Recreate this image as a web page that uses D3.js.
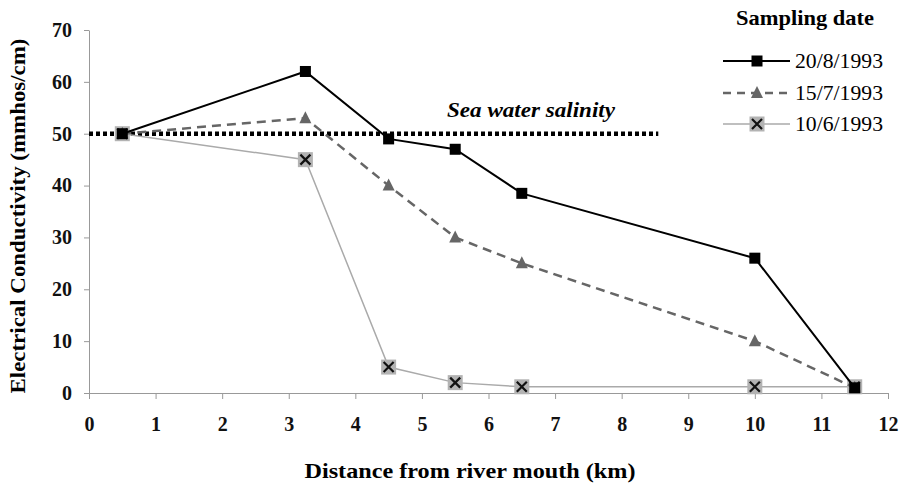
<!DOCTYPE html>
<html>
<head>
<meta charset="utf-8">
<script src="https://cdn.jsdelivr.net/npm/d3@7"></script>
<style>
  body { margin: 0; background: #fff; }
  svg { font-family: "Liberation Serif", "Times New Roman", serif; }
</style>
</head>
<body>
<svg id="chart" width="901" height="486"></svg>
<script>
// distance from river mouth (km)
const distances = [0.5, 3.25, 4.5, 5.5, 6.5, 10, 11.5];
const ec_20_8 = [50, 62, 49, 47, 38.5, 26, 1];
const ec_15_7 = [50, 53, 40, 30, 25, 10, 1];
const ec_10_6 = [50, 45, 5, 2, 1.2, 1.2, 1.2];
const seriesNames = ["20/8/1993", "15/7/1993", "10/6/1993"];
const xTicks = [0, 1, 2, 3, 4, 5, 6, 7, 8, 9, 10, 11, 12];
const yTicks = [0, 10, 20, 30, 40, 50, 60, 70];
const seaLevel = 50;
const seaRange = [0, 8.55];

const svg = d3.select("#chart");
const x = d3.scaleLinear().domain([0, 12]).range([89, 888]);
const y = d3.scaleLinear().domain([0, 70]).range([393, 30]);

// axes
const xAxis = svg.append("g").attr("transform", `translate(0,${y(0)})`)
  .call(d3.axisBottom(x).tickValues(xTicks).tickSize(6).tickSizeOuter(0).tickPadding(18));
const yAxis = svg.append("g").attr("transform", `translate(${x(0)},0)`)
  .call(d3.axisLeft(y).tickValues(yTicks).tickSize(5).tickSizeOuter(0).tickPadding(12));
[xAxis, yAxis].forEach(a => {
  a.selectAll("path, line").attr("stroke", "#999");
  a.selectAll("text").attr("fill", "#111").style("font-size", "20px").style("font-weight", "bold")
    .style("font-family", "Liberation Serif");
});

// sea water salinity line
svg.append("line")
  .attr("x1", x(seaRange[0])).attr("x2", x(seaRange[1]))
  .attr("y1", y(seaLevel)).attr("y2", y(seaLevel))
  .attr("stroke", "#000").attr("stroke-width", 4.5).attr("stroke-dasharray", "4,3");
svg.append("text").attr("x", 531).attr("y", 117).attr("text-anchor", "middle")
  .attr("textLength", 168).attr("lengthAdjust", "spacingAndGlyphs")
  .style("font-size", "22px").style("font-weight", "bold").style("font-style", "italic")
  .text("Sea water salinity");

const line = d3.line().x(d => x(d[0])).y(d => y(d[1]));
const pts = vals => distances.map((d, i) => [d, vals[i]]);

const styles = [
  { vals: ec_20_8, stroke: "#000", width: 2, dash: null, marker: "square" },
  { vals: ec_15_7, stroke: "#666", width: 2.5, dash: "9,6", marker: "triangle" },
  { vals: ec_10_6, stroke: "#aaa", width: 1.5, dash: null, marker: "xbox" }
];

function drawMarker(g, type, cx, cy) {
  if (type === "square") {
    g.append("rect").attr("x", cx - 5.5).attr("y", cy - 5.5).attr("width", 11).attr("height", 11).attr("fill", "#000");
  } else if (type === "triangle") {
    g.append("path").attr("d", `M${cx},${cy - 7}L${cx + 6},${cy + 5}L${cx - 6},${cy + 5}Z`).attr("fill", "#666");
  } else {
    g.append("rect").attr("x", cx - 7.5).attr("y", cy - 7.5).attr("width", 15).attr("height", 15).attr("fill", "#b3b3b3");
    g.append("path").attr("d", `M${cx - 5},${cy - 5}L${cx + 5},${cy + 5}M${cx + 5},${cy - 5}L${cx - 5},${cy + 5}`)
      .attr("stroke", "#111").attr("stroke-width", 2.2);
  }
}

// draw bottom series first so black is on top
styles.slice().reverse().forEach(s => {
  svg.append("path").datum(pts(s.vals)).attr("d", line)
    .attr("fill", "none").attr("stroke", s.stroke).attr("stroke-width", s.width)
    .attr("stroke-dasharray", s.dash);
  const g = svg.append("g");
  pts(s.vals).forEach(p => drawMarker(g, s.marker, x(p[0]), y(p[1])));
});

// legend
svg.append("text").attr("x", 805).attr("y", 25).attr("text-anchor", "middle")
  .attr("textLength", 138).attr("lengthAdjust", "spacingAndGlyphs")
  .style("font-size", "21px").style("font-weight", "bold").text("Sampling date");
const legY = [61, 93, 124];
styles.forEach((s, i) => {
  svg.append("line").attr("x1", 723).attr("x2", 790).attr("y1", legY[i]).attr("y2", legY[i])
    .attr("stroke", s.stroke).attr("stroke-width", s.width).attr("stroke-dasharray", s.dash ? "8,6" : null);
  drawMarker(svg.append("g"), s.marker, 757, legY[i]);
  svg.append("text").attr("x", 795).attr("y", legY[i] + 7)
    .attr("textLength", 88).attr("lengthAdjust", "spacingAndGlyphs")
    .style("font-size", "21px").text(seriesNames[i]);
});

// axis titles
svg.append("text").attr("x", 470).attr("y", 478).attr("text-anchor", "middle")
  .attr("textLength", 331).attr("lengthAdjust", "spacingAndGlyphs")
  .style("font-size", "22px").style("font-weight", "bold").text("Distance from river mouth (km)");
svg.append("text").attr("transform", "translate(25,216) rotate(-90)").attr("text-anchor", "middle")
  .attr("textLength", 355).attr("lengthAdjust", "spacingAndGlyphs")
  .style("font-size", "22px").style("font-weight", "bold").text("Electrical Conductivity (mmhos/cm)");
</script>
</body>
</html>
